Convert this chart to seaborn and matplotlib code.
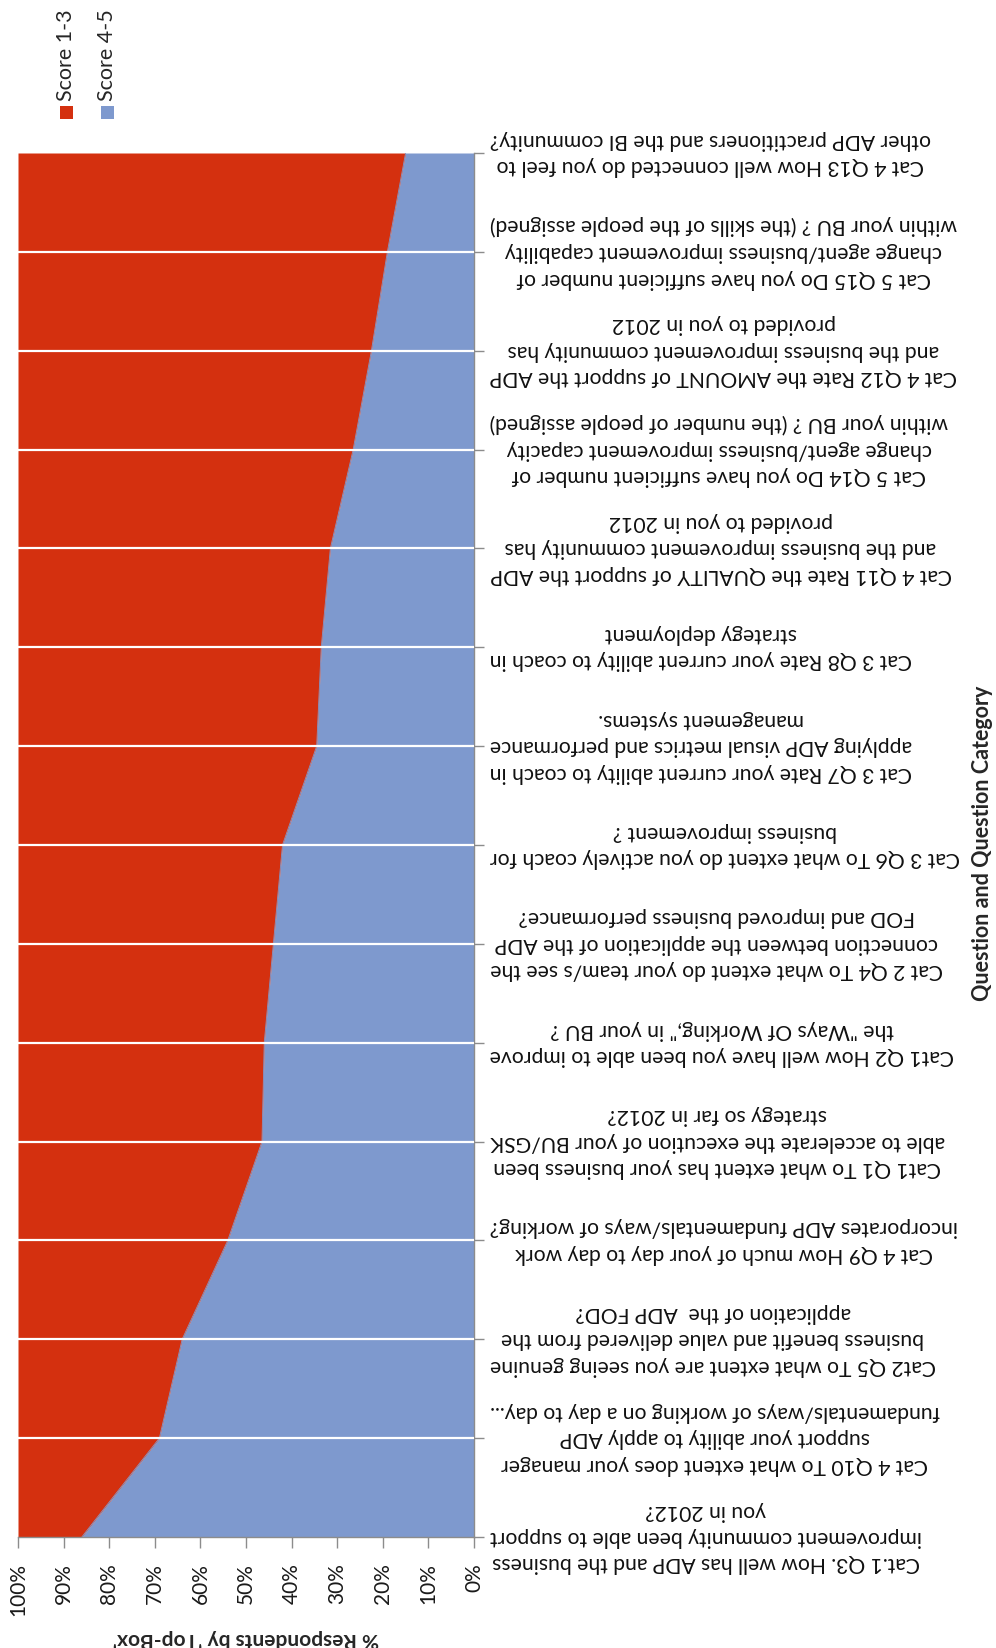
import matplotlib
matplotlib.use("Agg")
import matplotlib.pyplot as plt
from matplotlib.patches import Rectangle
from matplotlib.transforms import blended_transform_factory
import seaborn as sns

# ---------------------------------------------------------------------------
# data - category 0 is at the bottom of the chart
# ---------------------------------------------------------------------------
questions = [
    "Cat.1 Q3. How well has ADP and the business\nimprovement community been able to support\nyou in 2012?",
    "Cat 4 Q10 To what extent does your manager\nsupport your ability to apply ADP\nfundamentals/ways of working on a day to day...",
    "Cat2 Q5 To what extent are you seeing genuine\nbusiness benefit and value delivered from the\napplication of the  ADP FOD?",
    "Cat 4 Q9 How much of your day to day work\nincorporates ADP fundamentals/ways of working?",
    "Cat1 Q1 To what extent has your business been\nable to accelerate the execution of your BU/GSK\nstrategy so far in 2012?",
    "Cat1 Q2 How well have you been able to improve\nthe \"Ways Of Working,\" in your BU ?",
    "Cat 2 Q4 To what extent do your team/s see the\nconnection between the application of the ADP\nFOD and improved business performance?",
    "Cat 3 Q6 To what extent do you actively coach for\nbusiness improvement ?",
    "Cat 3 Q7 Rate your current ability to coach in\napplying ADP visual metrics and performance\nmanagement systems.",
    "Cat 3 Q8 Rate your current ability to coach in\nstrategy deployment",
    "Cat 4 Q11 Rate the QUALITY of support the ADP\nand the business improvement community has\nprovided to you in 2012",
    "Cat 5 Q14 Do you have sufficient number of\nchange agent/business improvement capacity\nwithin your BU ? (the number of people assigned)",
    "Cat 4 Q12 Rate the AMOUNT of support the ADP\nand the business improvement community has\nprovided to you in 2012",
    "Cat 5 Q15 Do you have sufficient number of\nchange agent/business improvement capability\nwithin your BU ? (the skills of the people assigned)",
    "Cat 4 Q13 How well connected do you feel to\nother ADP practitioners and the BI community?",
]
score_45 = [86, 69, 64, 54, 46.5, 46, 44, 42, 34.5, 33.5, 31.5, 26.5, 22.5, 19, 15]
score_13 = [14, 31, 36, 46, 53.5, 54, 56, 58, 65.5, 66.5, 68.5, 73.5, 77.5, 81, 85]
pct_ticks = [0, 10, 20, 30, 40, 50, 60, 70, 80, 90, 100]
series_names = ["Score 1-3", "Score 4-5"]

RED = "#d4300f"
BLUE = "#7e99ce"
GREY = "#8c8c8c"

sns.set_theme(style="white")
plt.rcParams["font.family"] = ["Lato", "DejaVu Sans"]

W, H = 996, 1648
fig = plt.figure(figsize=(W / 100, H / 100), dpi=100)
ax = fig.add_axes([18 / W, (H - 1537) / H, (474 - 18) / W, (1537 - 153) / H])

pos = list(range(len(questions)))
stack_top = [a + b for a, b in zip(score_45, score_13)]

# stacked area, drawn sideways (value axis horizontal, reversed)
ax.fill_betweenx(pos, 0, score_45, color=BLUE, lw=0)
ax.fill_betweenx(pos, score_45, stack_top, color=RED, lw=0)
sns.lineplot(x=score_45, y=pos, orient="y", sort=False, ax=ax, color=BLUE, lw=0.6)

ax.set_xlim(100, 0)
ax.set_ylim(0, len(questions) - 1)

# white category gridlines on top of the areas
for p in pos[1:-1]:
    ax.axhline(p, color="white", lw=1.6, zorder=5)

# axes / ticks
for s in ["left", "top"]:
    ax.spines[s].set_visible(False)
for s in ["bottom", "right"]:
    ax.spines[s].set_color(GREY)
    ax.spines[s].set_linewidth(1.0)

ax.set_xticks(pct_ticks)
ax.set_xticklabels([f"{v}%" for v in pct_ticks], rotation=90, fontsize=15, color="#1a1a1a")
ax.tick_params(axis="x", bottom=True, direction="out", length=8, width=1, color=GREY, pad=11)

ax.yaxis.tick_right()
ax.set_yticks(pos)
ax.tick_params(axis="y", right=True, left=False, direction="out", length=7, width=1,
               color=GREY, labelright=False, labelleft=False)

ax.set_xlabel("% Respondents by 'Top-Box'", rotation=180, fontsize=15,
              fontweight="bold", labelpad=9)

# category labels (upside down, block starts just right of the axis)
lab_tr = blended_transform_factory(fig.transFigure, ax.transData)
for p, q in zip(pos, questions):
    ax.text(490 / W, p, q, transform=lab_tr,
            rotation=180, ha="left", va="center", multialignment="center",
            fontsize=15.2, linespacing=1.4, color="#111111")

fig.text(982 / W, 1 - 843 / H, "Question and Question Category", rotation=90,
         ha="center", va="center", fontsize=15.5, fontweight="bold")

# legend, rotated
for (name, col), cx in zip(zip(series_names, [RED, BLUE]), [66, 107]):
    fig.add_artist(Rectangle(((cx - 6.5) / W, 1 - 118.5 / H), 13 / W, 13 / H,
                             transform=fig.transFigure, color=col, lw=0))
    fig.text(cx / W, 1 - 101 / H, name, rotation=90, ha="center", va="bottom", fontsize=15.5)

fig.savefig("out.png", dpi=100)
